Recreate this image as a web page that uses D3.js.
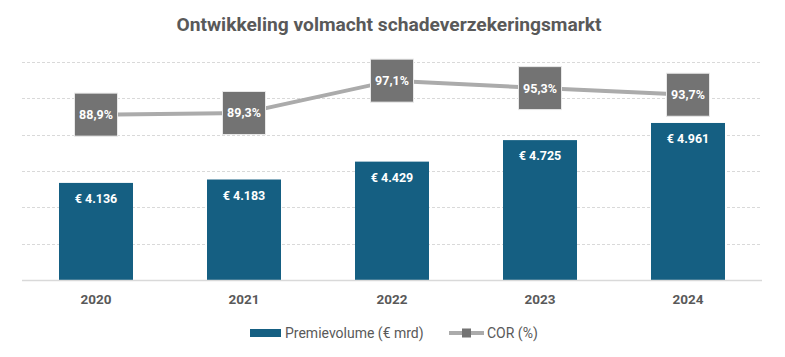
<!DOCTYPE html>
<html><head><meta charset="utf-8">
<script src="https://cdn.jsdelivr.net/npm/d3@7"></script>
<style>body{margin:0;background:#fff}svg{display:block}</style>
</head><body>
<svg id="c" width="785" height="357"></svg>
<script>
const years = ["2020","2021","2022","2023","2024"];
const premie = [4136, 4183, 4429, 4725, 4961];
const cor = [88.9, 89.3, 97.1, 95.3, 93.7];
const premieLabels = ["€ 4.136","€ 4.183","€ 4.429","€ 4.725","€ 4.961"];
const corLabels = ["88,9%","89,3%","97,1%","95,3%","93,7%"];
const gridTicks = [2800,3300,3800,4300,4800,5300,5800];

const svg = d3.select("#c");
const font = "Roboto, 'Liberation Sans', sans-serif";
const L = 22, R = 762, T = 62, B = 280;
const x = d3.scaleBand().domain(years).range([L,R]).paddingInner(0.5).paddingOuter(0.25);
const y = d3.scaleLinear().domain([2800,5800]).range([B,T]);
const y2 = d3.scaleLinear().domain([49,101.6]).range([B,T]);

svg.append("text").attr("x",389).attr("y",31).attr("text-anchor","middle")
  .attr("font-family",font).attr("font-weight","bold").attr("font-size",19.2).attr("fill","#595959")
  .text("Ontwikkeling volmacht schadeverzekeringsmarkt");

svg.append("g").selectAll("line").data(gridTicks.slice(1)).join("line")
  .attr("x1",L).attr("x2",R).attr("y1",d=>Math.round(y(d))+0.5).attr("y2",d=>Math.round(y(d))+0.5)
  .attr("stroke","#d9d9d9").attr("stroke-width",1).attr("stroke-dasharray","3,2");

svg.append("g").selectAll("rect").data(premie).join("rect")
  .attr("x",(d,i)=>x(years[i])).attr("width",x.bandwidth())
  .attr("y",d=>y(d)).attr("height",d=>B-y(d)).attr("fill","#155F82");

svg.append("line").attr("x1",L).attr("x2",R).attr("y1",B+0.5).attr("y2",B+0.5)
  .attr("stroke","#d9d9d9").attr("stroke-width",1.5);

svg.append("g").selectAll("text").data(premie).join("text")
  .attr("x",(d,i)=>x(years[i])+x.bandwidth()/2).attr("y",d=>y(d)+20)
  .attr("text-anchor","middle").attr("font-family",font).attr("font-weight","bold")
  .attr("font-size",12.5).attr("fill","#fff").text((d,i)=>premieLabels[i]);

const cx = d=>x(d)+x.bandwidth()/2;
const line = d3.line().x((d,i)=>cx(years[i])).y(d=>y2(d));
svg.append("path").datum(cor).attr("d",line).attr("fill","none")
  .attr("stroke","#ababab").attr("stroke-width",4);

const ms = 43;
svg.append("g").selectAll("rect").data(cor).join("rect")
  .attr("x",(d,i)=>cx(years[i])-ms/2).attr("y",d=>y2(d)-ms/2)
  .attr("width",ms).attr("height",ms).attr("fill","#737373")
  .attr("stroke","#e8e8e8").attr("stroke-width",1);

svg.append("g").selectAll("text").data(cor).join("text")
  .attr("x",(d,i)=>cx(years[i])).attr("y",d=>y2(d)+4.5)
  .attr("text-anchor","middle").attr("font-family",font).attr("font-weight","bold")
  .attr("font-size",12.5).attr("fill","#fff").text((d,i)=>corLabels[i]);

svg.append("g").selectAll("text").data(years).join("text")
  .attr("x",d=>cx(d)).attr("y",304).attr("text-anchor","middle")
  .attr("font-family",font).attr("font-weight","bold").attr("font-size",13.5).attr("fill","#595959")
  .text(d=>d);

// legend
const lg = svg.append("g");
lg.append("rect").attr("x",250).attr("y",329).attr("width",31).attr("height",8).attr("fill","#155F82");
lg.append("text").attr("x",285).attr("y",338).attr("font-family",font).attr("font-size",14).attr("fill","#595959")
  .text("Premievolume (€ mrd)");
lg.append("line").attr("x1",449).attr("x2",484).attr("y1",333).attr("y2",333).attr("stroke","#ababab").attr("stroke-width",4);
lg.append("rect").attr("x",462).attr("y",328.5).attr("width",9).attr("height",9).attr("fill","#737373");
lg.append("text").attr("x",487).attr("y",338).attr("font-family",font).attr("font-size",14).attr("fill","#595959")
  .text("COR (%)");
</script>
</body></html>
